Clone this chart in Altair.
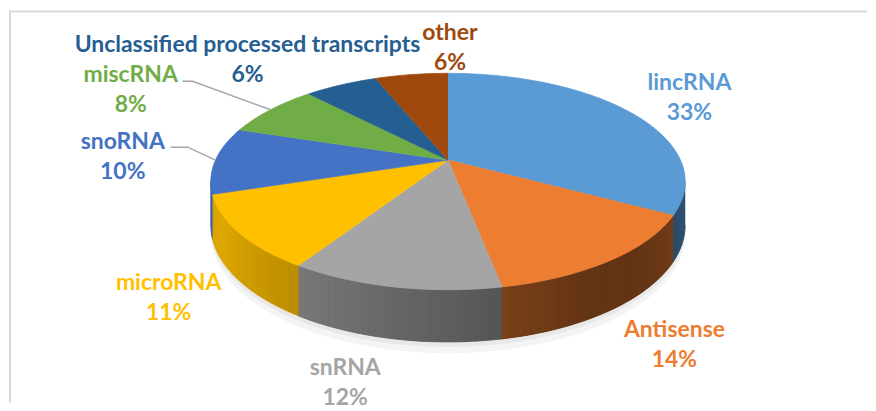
import math
import pandas as pd
import altair as alt

# ---- data ----
names = ["lincRNA", "Antisense", "snRNA", "microRNA", "snoRNA", "miscRNA",
         "Unclassified processed transcripts", "other"]
values = [33, 14, 12, 11, 10, 8, 6, 6]
colors = ["#5B9BD5", "#ED7D31", "#A5A5A5", "#FFC000", "#4472C4", "#70AD47",
          "#255E91", "#9E480E"]
label_colors = ["#5B9BD5", "#ED7D31", "#A5A5A5", "#FFC000", "#4472C4", "#70AD47",
                "#255E91", "#9E480E"]

# ---- layout (3D perspective pie geometry, label placement) ----
CX, CY = 448.0, 160.0     # apex of the pie top
A, B = 233.0, 104.2       # horizontal / vertical radii factors
P = 0.198                 # perspective strength
D = 42.0                  # pie thickness
VIS0, VIS1 = 101.4, 258.6  # visible side range (deg, clockwise from top)
label_pos = [(690, 83), (675, 330), (345, 368), (168, 283), (122, 142),
             (130, 75), (247, 45), (450, 33)]
line_gap = 30
leaders = {4: (170, 147, 187), 5: (182, 81, 192)}  # start x, y, elbow x


def proj(theta, r=1.0, depth=0.0):
    t = math.radians(theta)
    u, v = r * math.sin(t), r * math.cos(t)
    w = 1 + P * v
    return CX + A * u / w, CY - B * v / w + depth / w


def shade(hexcol, f):
    h = hexcol.lstrip("#")
    rgb = [int(h[i:i + 2], 16) for i in (0, 2, 4)]
    return "#%02x%02x%02x" % tuple(max(0, min(255, int(c * f))) for c in rgb)


def side_factor(theta):
    t = min(1.0, max(0.0, (theta - 150) / 90))
    f = 0.42 + 0.45 * t
    if theta < 135:
        f += 0.12 * min(1.0, (135 - theta) / 30)
    return f


total = sum(values)
starts, ends = [], []
acc = 0
for v in values:
    starts.append(acc / total * 360)
    acc += v
    ends.append(acc / total * 360)

# top faces
top_rows = []
for k in range(len(values)):
    a0, a1 = starts[k], ends[k]
    x, y = proj(0, 0)
    top_rows.append(dict(pid=k, i=0, x=x, y=y, c=colors[k]))
    n = max(2, int(math.ceil(a1 - a0)))
    for j in range(n + 1):
        a = a0 + (a1 - a0) * j / n
        x, y = proj(a)
        top_rows.append(dict(pid=k, i=j + 1, x=x, y=y, c=colors[k]))
top_df = pd.DataFrame(top_rows)

# side: base polygon per slice + shading strips
base_rows, side_rows = [], []
pid = 0
for k in range(len(values)):
    a0, a1 = max(starts[k], VIS0), min(ends[k], VIS1)
    if a1 <= a0:
        continue
    n = max(1, int(math.ceil((a1 - a0) / 1.5)))
    base_col = shade(colors[k], side_factor((a0 + a1) / 2))
    outline = [proj(a0 + (a1 - a0) * j / n) for j in range(n + 1)] + \
              [proj(a0 + (a1 - a0) * j / n, 1, D) for j in range(n, -1, -1)]
    for i, (x, y) in enumerate(outline):
        base_rows.append(dict(pid=k, i=i, x=x, y=y, c=base_col))
    for j in range(n):
        b0 = a0 + (a1 - a0) * j / n
        b1 = a0 + (a1 - a0) * (j + 1) / n
        col = shade(colors[k], side_factor((b0 + b1) / 2))
        pts = [proj(b0), proj(b1), proj(b1, 1, D), proj(b0, 1, D)]
        for i, (x, y) in enumerate(pts):
            side_rows.append(dict(pid=pid, i=i, x=x, y=y, c=col))
        pid += 1
base_df = pd.DataFrame(base_rows)
side_df = pd.DataFrame(side_rows)

# soft shadow under the pie (front only)
sh_rows = []
for s, (dd, col) in enumerate([(D + 9, "#f4f4f4"), (D + 4, "#e8e8e8")]):
    for j in range(90, 271, 2):
        x, y = proj(j, 1.0, dd)
        sh_rows.append(dict(pid=s, i=j, x=x, y=y, c=col))
sh_df = pd.DataFrame(sh_rows)

# leader lines
lead_rows = []
for k, (sx, sy, ex) in leaders.items():
    mx, my = proj((starts[k] + ends[k]) / 2)
    for i, (x, y) in enumerate([(sx, sy), (ex, sy), (mx, my)]):
        lead_rows.append(dict(pid=k, i=i, x=x, y=y))
lead_df = pd.DataFrame(lead_rows)

# labels
lab_rows = []
for k in range(len(values)):
    lx, ly = label_pos[k]
    lab_rows.append(dict(x=lx, y=ly, t=names[k], c=label_colors[k]))
    lab_rows.append(dict(x=lx, y=ly + line_gap, t=f"{values[k]}%", c=label_colors[k]))
lab_df = pd.DataFrame(lab_rows)

xs = alt.Scale(domain=[8, 868], nice=False, zero=False)
ys = alt.Scale(domain=[8, 403], nice=False, zero=False, reverse=True)
X = alt.X("x:Q", scale=xs, axis=None)
Y = alt.Y("y:Q", scale=ys, axis=None)


def polys(df, sw=1.0):
    return alt.Chart(df).mark_line(strokeWidth=sw, strokeJoin="round").encode(
        x=X, y=Y,
        detail="pid:N",
        order="i:Q",
        fill=alt.Fill("c:N", scale=None),
        stroke=alt.Stroke("c:N", scale=None),
    )


def polys_nostroke(df):
    return alt.Chart(df).mark_line(strokeWidth=0).encode(
        x=X, y=Y,
        detail="pid:N",
        order="i:Q",
        fill=alt.Fill("c:N", scale=None),
    )


shadow = polys(sh_df, 0)
side_base = polys(base_df, 0.8)
sides = polys_nostroke(side_df)
tops = polys(top_df, 0.8)

lead = alt.Chart(lead_df).mark_line(color="#A6A6A6", strokeWidth=1.5).encode(
    x=X, y=Y, detail="pid:N", order="i:Q")

texts = alt.Chart(lab_df).mark_text(
    font="Lato", fontWeight="bold", fontSize=23, align="center", baseline="middle"
).encode(x=X, y=Y, text="t:N", color=alt.Color("c:N", scale=None))

one = pd.DataFrame({"a": [0]})
frame_top = alt.Chart(one).mark_rule(color="#D9D9D9", strokeWidth=2).encode(
    x=alt.value(0), x2=alt.value(860), y=alt.value(3))
frame_left = alt.Chart(one).mark_rule(color="#D9D9D9", strokeWidth=2).encode(
    x=alt.value(1), y=alt.value(2), y2=alt.value(395))

chart = alt.layer(shadow, side_base, sides, tops, lead, texts, frame_top, frame_left).properties(
    width=860, height=395, padding=0, background="white"
).configure_view(strokeWidth=0)

chart.save("out.html", embed_options={"renderer": "svg", "actions": False})
